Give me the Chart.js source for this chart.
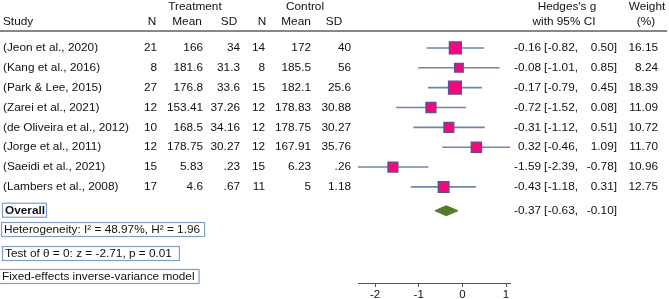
<!DOCTYPE html>
<html>
<head>
<meta charset="utf-8">
<script src="https://cdn.jsdelivr.net/npm/chart.js@4/dist/chart.umd.min.js"></script>
<style>
  body { margin: 0; background: #fff; }
</style>
</head>
<body>
<canvas id="forest" width="669" height="299"></canvas>
<script>
const studies = ['(Jeon et al., 2020)', '(Kang et al., 2016)', '(Park & Lee, 2015)', '(Zarei et al., 2021)',
  '(de Oliveira et al., 2012)', '(Jorge et al., 2011)', '(Saeidi et al., 2021)', '(Lambers et al., 2008)'];
const treatN = [21, 8, 27, 12, 10, 12, 15, 17];
const treatMean = [166, 181.6, 176.8, 153.41, 168.5, 178.75, 5.83, 4.6];
const treatSD = [34, 31.3, 33.6, 37.26, 34.16, 30.27, 0.23, 0.67];
const ctrlN = [14, 8, 15, 12, 12, 12, 15, 11];
const ctrlMean = [172, 185.5, 182.1, 178.83, 178.75, 167.91, 6.23, 5];
const ctrlSD = [40, 56, 25.6, 30.88, 30.27, 35.76, 0.26, 1.18];
const hedgesG = [-0.16, -0.08, -0.17, -0.72, -0.31, 0.32, -1.59, -0.43];
const ciLow = [-0.82, -1.01, -0.79, -1.52, -1.12, -0.46, -2.39, -1.18];
const ciHigh = [0.50, 0.85, 0.45, 0.08, 0.51, 1.09, -0.78, 0.31];
const weights = [16.15, 8.24, 18.39, 11.09, 10.72, 11.70, 10.96, 12.75];
const overall = { g: -0.37, low: -0.63, high: -0.10 };
const overallRow = 8.2;
const xTicks = [-2, -1, 0, 1];

const FONT = '11.8px "Liberation Sans", Arial, sans-serif';
const fmt = v => String(v).replace(/^0\./, '.');

const ciSets = studies.map((s, i) => ({
  type: 'scatter',
  data: [{ x: ciLow[i], y: i }, { x: ciHigh[i], y: i }],
  showLine: true,
  pointRadius: 0,
  borderColor: '#6f88a6',
  borderWidth: 1.6,
  order: 2
}));

const forestText = {
  id: 'forestText',
  afterDraw(chart) {
    const ctx = chart.ctx;
    const y = chart.scales.y;
    ctx.save();
    ctx.fillStyle = '#111';
    ctx.font = FONT;
    ctx.textBaseline = 'middle';
    const put = (t, x, yy, align) => { ctx.textAlign = align; ctx.fillText(t, x, yy); };

    // headers
    put('Treatment', 195, 7, 'center');
    put('Control', 305, 7, 'center');
    put("Hedges's g", 567, 7, 'center');
    put('Weight', 647, 7, 'center');
    put('Study', 3, 22, 'left');
    put('N', 152, 22, 'center');
    put('Mean', 187, 22, 'center');
    put('SD', 229, 22, 'center');
    put('N', 262, 22, 'center');
    put('Mean', 296, 22, 'center');
    put('SD', 334, 22, 'center');
    put('with 95% CI', 564, 22, 'center');
    put('(%)', 646, 22, 'center');

    ctx.strokeStyle = '#111';
    ctx.lineWidth = 1.2;
    ctx.beginPath();
    ctx.moveTo(0, 31);
    ctx.lineTo(667, 31);
    ctx.stroke();

    const ciText = (g, lo, hi, yy) => {
      put(g.toFixed(2), 541, yy, 'right');
      put('[', 544, yy, 'left');
      put(lo.toFixed(2) + ',', 578, yy, 'right');
      put(hi.toFixed(2) + ']', 617, yy, 'right');
    };

    studies.forEach((s, i) => {
      const yy = y.getPixelForValue(i);
      put(s, 3, yy, 'left');
      put(fmt(treatN[i]), 157, yy, 'right');
      put(fmt(treatMean[i]), 203, yy, 'right');
      put(fmt(treatSD[i]), 240, yy, 'right');
      put(fmt(ctrlN[i]), 265, yy, 'right');
      put(fmt(ctrlMean[i]), 311, yy, 'right');
      put(fmt(ctrlSD[i]), 351, yy, 'right');
      ciText(hedgesG[i], ciLow[i], ciHigh[i], yy);
      put(weights[i].toFixed(2), 658, yy, 'right');
    });

    const oy = y.getPixelForValue(overallRow);
    ciText(overall.g, overall.low, overall.high, oy);

    // boxed notes on the left
    const boxed = (t, x, yy, bold, padR) => {
      ctx.font = bold ? 'bold ' + FONT : FONT;
      put(t, x, yy, 'left');
      const w = ctx.measureText(t).width;
      ctx.strokeStyle = '#7f9fc8';
      ctx.lineWidth = 1.2;
      ctx.strokeRect(x - 2.5, yy - 7.5, w + 2 + padR, 14);
    };
    boxed('Overall', 5, oy, true, 2);
    boxed('Heterogeneity: I\u00b2 = 48.97%, H\u00b2 = 1.96', 4, 230, false, 5);
    boxed('Test of \u03b8 = 0: z = -2.71, p = 0.01', 5, 254, false, 8);
    boxed('Fixed-effects inverse-variance model', 2, 277, false, 5);
    ctx.restore();
  }
};

new Chart(document.getElementById('forest'), {
  type: 'scatter',
  data: {
    datasets: [
      {
        label: 'Studies',
        data: hedgesG.map((g, i) => ({ x: g, y: i })),
        pointStyle: 'rect',
        pointRadius: weights.map(w => 3.0 * Math.sqrt(w) / Math.SQRT2),
        backgroundColor: '#f5087c',
        borderColor: '#5f4f8e',
        borderWidth: 1.3,
        order: 0
      },
      ...ciSets,
      {
        type: 'line',
        data: [{ x: overall.low, y: overallRow }, { x: overall.g, y: overallRow - 0.25 }, { x: overall.high, y: overallRow }],
        pointRadius: 0,
        borderColor: '#557a2c',
        borderWidth: 1,
        tension: 0,
        order: 1
      },
      {
        type: 'line',
        data: [{ x: overall.low, y: overallRow }, { x: overall.g, y: overallRow + 0.25 }, { x: overall.high, y: overallRow }],
        pointRadius: 0,
        borderColor: '#557a2c',
        borderWidth: 1,
        backgroundColor: '#557a2c',
        fill: '-1',
        tension: 0,
        order: 1
      }
    ]
  },
  options: {
    responsive: false,
    animation: false,
    devicePixelRatio: 1,
    layout: { padding: { left: 358, right: 159, top: 38, bottom: 0 } },
    plugins: {
      legend: { display: false },
      tooltip: { enabled: false }
    },
    scales: {
      x: {
        type: 'linear',
        min: -2.39,
        max: 1.09,
        afterBuildTicks: s => { s.ticks = xTicks.map(v => ({ value: v })); },
        afterFit: s => { s.height = 16; },
        grid: { drawOnChartArea: false, drawTicks: true, tickLength: 4, color: '#555' },
        border: { display: true, color: '#555', width: 1 },
        ticks: { color: '#111', font: { family: '"Liberation Sans", Arial', size: 11.5, lineHeight: 1 }, padding: 2, maxRotation: 0 }
      },
      y: {
        type: 'linear',
        display: false,
        reverse: true,
        min: -0.5,
        max: 11.84
      }
    }
  },
  plugins: [forestText]
});
</script>
</body>
</html>
